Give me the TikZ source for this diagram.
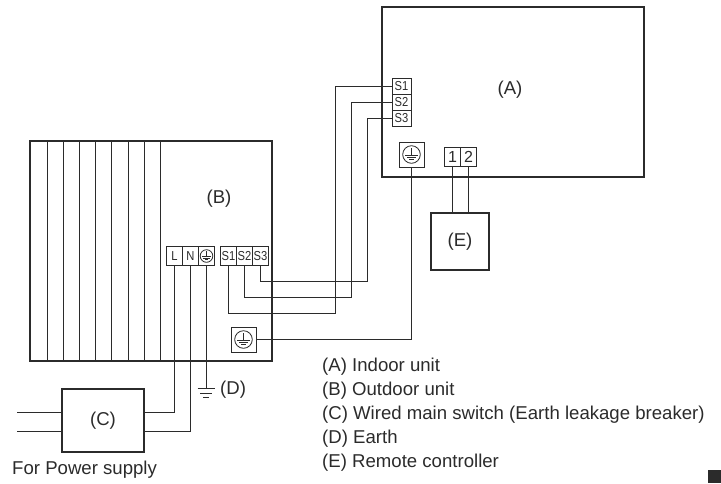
\documentclass[tikz,border=0pt]{standalone}
\usepackage{fontspec}
\setmainfont{Liberation Sans}
\newfontfamily\termfont[FakeStretch=0.86]{Liberation Sans}
\definecolor{wirecol}{HTML}{2B2B2B}
\newcommand{\earthmark}[1]{%
  \draw[wirecol, line width=0.8pt] (path picture bounding box.center) circle (#1);
  \draw[wirecol, line width=0.8pt] ([xshift=-0.72*#1,yshift=-0.05*#1]path picture bounding box.center) -- ([xshift=0.72*#1,yshift=-0.05*#1]path picture bounding box.center);
  \draw[wirecol, line width=0.8pt] ([xshift=-0.48*#1,yshift=-0.32*#1]path picture bounding box.center) -- ([xshift=0.48*#1,yshift=-0.32*#1]path picture bounding box.center);
  \draw[wirecol, line width=0.8pt] ([xshift=-0.25*#1,yshift=-0.6*#1]path picture bounding box.center) -- ([xshift=0.25*#1,yshift=-0.6*#1]path picture bounding box.center);
  \draw[wirecol, line width=0.8pt] ([yshift=-0.05*#1]path picture bounding box.center) -- ([yshift=0.75*#1]path picture bounding box.center);
}
\tikzset{
  every node/.style={text=wirecol},
  bigtext/.style={font=\fontsize{18.6}{22}\selectfont},
  unitbox/.style={draw=wirecol, line width=1.5pt, inner sep=0pt, bigtext},
  termbox/.style={draw=wirecol, line width=1pt, inner sep=0pt, minimum width=16pt, minimum height=19pt, font=\termfont\fontsize{13}{15}\selectfont},
  slimterm/.style={draw=wirecol, line width=1pt, inner sep=0pt, minimum width=19pt, minimum height=16pt, font=\termfont\fontsize{13}{15}\selectfont},
  earthbox/.style={draw=wirecol, line width=1pt, minimum size=25pt, inner sep=0pt, path picture={\earthmark{8.8pt}}},
  wire/.style={draw=wirecol, line width=1pt},
  legend/.style={anchor=west, inner sep=0pt, bigtext},
}
\begin{document}
\begin{tikzpicture}[x=1pt, y=-1pt]
    \useasboundingbox (0,0) rectangle (721,483);
    % units
    \node[unitbox, minimum width=262pt, minimum height=170pt] (ua) at (513,92) {};
    \node[bigtext] (la) at (510,89.5) {(A)};
    \node[unitbox, minimum width=242pt, minimum height=220pt] (ub) at (151,251) {};
    \node[bigtext] (lb) at (219,199) {(B)};
    \node[unitbox, minimum width=82pt, minimum height=63pt] (uc) at (103,420.5) {(C)};
    \node[unitbox, minimum width=58pt, minimum height=57pt] (ue) at (460,241.5) {(E)};
    % fins
    \foreach \fx in {47.5,63.5,79.5,95.5,111.5,128.5,144.5,160.5}
        \draw[wire] (\fx,141) -- (\fx,361);
    % terminals of (B)
    \node[termbox] (tl) at (174.5,256) {L};
    \node[termbox] (tn) at (190.5,256) {N};
    \node[termbox, path picture={\earthmark{6.3pt}}] (te) at (206.5,256) {};
    \node[termbox] (bs1) at (228.5,256) {S1};
    \node[termbox] (bs2) at (244.5,256) {S2};
    \node[termbox] (bs3) at (260.5,256) {S3};
    \node[earthbox] (be) at (243.5,339.5) {};
    % terminals of (A)
    \node[slimterm] (as1) at (401.5,86.5) {S1};
    \node[slimterm] (as2) at (401.5,102.5) {S2};
    \node[slimterm] (as3) at (401.5,118.5) {S3};
    \node[earthbox] (ae) at (411.5,154.5) {};
    \node[termbox, font=\fontsize{16}{18}\selectfont] (r1) at (452.5,156.5) {1};
    \node[termbox, font=\fontsize{16}{18}\selectfont] (r2) at (468.5,156.5) {2};
    % bends
    \coordinate (c1a) at (228.5,313.5);
    \coordinate (c1b) at (335.5,313.5);
    \coordinate (c2a) at (244.5,297.5);
    \coordinate (c2b) at (351.5,297.5);
    \coordinate (c3a) at (260.5,281.5);
    \coordinate (c3b) at (367.5,281.5);
    \coordinate (g1) at (206.5,388.5);
    \coordinate (p1) at (17,412.5);
    \coordinate (p2) at (17,431.5);
    % wires
    \draw[wire] (bs1.south) -- (c1a) -- (c1b) |- (as1.west);
    \draw[wire] (bs2.south) -- (c2a) -- (c2b) |- (as2.west);
    \draw[wire] (bs3.south) -- (c3a) -- (c3b) |- (as3.west);
    \draw[wire] (ae.south) |- (be.east);
    \draw[wire] (r1.south) -- (r1.south |- ue.north);
    \draw[wire] (r2.south) -- (r2.south |- ue.north);
    \draw[wire] (tl.south) |- (uc.east |- p1);
    \draw[wire] (tn.south) |- (uc.east |- p2);
    \draw[wire] (te.south) -- (g1);
    \draw[wire] (p1) -- (uc.west |- p1);
    \draw[wire] (p2) -- (uc.west |- p2);
    % ground (D)
    \draw[wire] ([xshift=-9pt]g1) -- ([xshift=8pt]g1);
    \draw[wire] (200,393.5) -- (212,393.5);
    \draw[wire] (203,397.5) -- (209,397.5);
    \node[legend] (ld) at (220,389.5) {(D)};
    % texts
    \node[legend] (lps) at (12,470) {For Power supply};
    \node[legend] (k1) at (322,367) {(A) Indoor unit};
    \node[legend] (k2) at (322,391) {(B) Outdoor unit};
    \node[legend] (k3) at (322,415) {(C) Wired main switch (Earth leakage breaker)};
    \node[legend] (k4) at (322,439) {(D) Earth};
    \node[legend] (k5) at (322,463) {(E) Remote controller};
    % page mark
    \node[fill=wirecol, minimum size=13pt, inner sep=0pt] (pm) at (714.5,476.5) {};
\end{tikzpicture}
\end{document}
